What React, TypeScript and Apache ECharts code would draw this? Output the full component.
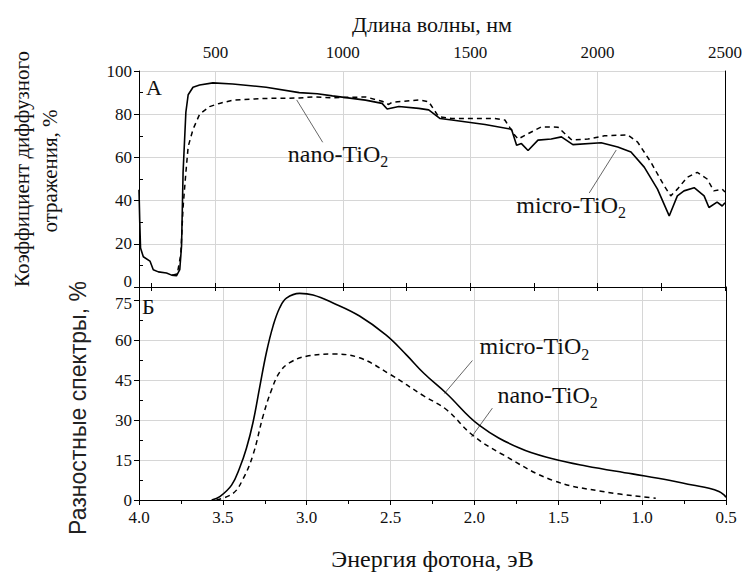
import React, { useEffect, useRef } from "react";
import * as echarts from "echarts";

// ---- Data: top panel (diffuse reflectance vs wavelength, nm) ----
const microTop: [number, number][] = [
  [200, 45], [203, 30], [206, 18], [217, 14], [243, 12], [256, 8], [276, 7], [308, 6.5],
  [328, 5.5], [347, 5.2], [360, 8], [367, 19], [373, 53], [384, 81], [393, 89], [412, 92.5],
  [438, 93.5], [490, 94.5], [568, 94], [699, 92.5], [829, 90], [900, 89.5], [959, 88.5],
  [1089, 86.5], [1154, 85], [1174, 82.4], [1220, 83.6], [1298, 82.7], [1337, 82], [1382, 78],
  [1428, 77.3], [1558, 75.2], [1662, 73], [1682, 65.6], [1701, 66.4], [1727, 63.2], [1766, 68],
  [1818, 68.5], [1858, 69.5], [1903, 65.9], [2014, 66.8], [2079, 64.8], [2131, 62.5],
  [2183, 55.5], [2235, 45.3], [2281, 32.9], [2313, 42.2], [2339, 44.5], [2379, 46],
  [2418, 42.2], [2437, 36.8], [2469, 39.3], [2489, 37.5], [2500, 39],
];
const nanoTop: [number, number][] = [
  [330, 5.5], [350, 6], [364, 15], [373, 37], [384, 53], [393, 65], [412, 73], [438, 80],
  [477, 83.5], [516, 85], [568, 86.5], [699, 87.3], [829, 87.5], [881, 88], [959, 87.6],
  [1089, 88], [1154, 86], [1180, 84.5], [1193, 85.5], [1298, 86.6], [1337, 85.8], [1376, 78.8],
  [1428, 78], [1597, 78], [1636, 77.3], [1675, 70.2], [1688, 68.5], [1727, 71], [1779, 74.1],
  [1844, 74], [1899, 68], [1962, 68.5], [2027, 70], [2118, 70.4], [2157, 67.1], [2209, 57.8],
  [2261, 46.9], [2287, 42.2], [2313, 45.3], [2352, 50.8], [2391, 53.1], [2430, 50],
  [2456, 44.5], [2489, 45.3], [2500, 44],
];

// ---- Data: bottom panel (difference spectra vs photon energy, eV) ----
const microBottom: [number, number][] = [
  [3.567, 0], [3.518, 1.3], [3.448, 5.6], [3.399, 12.2], [3.359, 19.5], [3.32, 29.2],
  [3.28, 42.5], [3.24, 55.5], [3.2, 65.5], [3.161, 72.2], [3.121, 75.8], [3.042, 77.6],
  [2.962, 77], [2.843, 74], [2.685, 69.1], [2.526, 61.9], [2.407, 54.6], [2.3, 47.5],
  [2.168, 40.1], [1.97, 28], [1.732, 19.5], [1.534, 15.5], [1.335, 12.8], [1.058, 9.8],
  [0.839, 7.4], [0.7, 5.6], [0.601, 4.4], [0.542, 3.2], [0.512, 1.9], [0.5, 1.0],
];
const nanoBottom: [number, number][] = [
  [3.538, 0], [3.439, 2.5], [3.379, 8], [3.32, 17], [3.26, 31.6], [3.21, 41.3], [3.161, 48],
  [3.101, 51.6], [3.002, 54], [2.843, 54.8], [2.685, 53.4], [2.506, 47.3], [2.3, 39],
  [2.168, 34], [2.01, 24.3], [1.832, 17.1], [1.534, 7.4], [1.236, 3.2], [0.919, 0.7],
];

// ---- Tick values ----
const wlMajor = [500, 1000, 1500, 2000, 2500];
const wlMinor = [250, 750, 1250, 1750, 2250];
const wlAll = [250, 500, 750, 1000, 1250, 1500, 1750, 2000, 2250, 2500];
const diffTicks = [0, 15, 30, 45, 60, 75];

// ---- Annotations (data coordinates) ----
const nanoTopLabel: [number, number] = [784, 61.6];
const nanoTopLeader: [number, number][] = [[819, 86.6], [921, 67]];
const microTopLabel: [number, number] = [1681, 38];
const microTopLeader: [number, number][] = [[2073, 63.4], [1967, 43.5]];
const microBotLabel: [number, number] = [1.97, 57.8];
const microBotLeader: [number, number][] = [[2.012, 52.4], [2.179, 40]];
const nanoBotLabel: [number, number] = [1.863, 39.6];
const nanoBotLeader: [number, number][] = [[1.893, 34.5], [2.018, 23.6]];

const SERIF = "Liberation Serif";
const SANS = "Liberation Sans";
const GRID_COLOR = "#d6d6d6";

export default function App() {
  const ref = useRef<HTMLDivElement>(null);
  useEffect(() => {
    if (!ref.current) return;
    const chart = echarts.init(ref.current, null, { renderer: "svg" });
    const axisLine = { show: true, lineStyle: { color: "#000", width: 1 } };
    const label = { color: "#111", fontFamily: SERIF, fontSize: 17 };
    const option: any = {
      animation: false,
      backgroundColor: "#fff",
      textStyle: { fontFamily: SERIF },
      grid: [
        { left: 139, right: 19, top: 71, height: 216 },
        { left: 139, right: 19, top: 287, height: 220 },
      ],
      xAxis: [
        {
          gridIndex: 0, type: "value", position: "top", min: 200, max: 2500,
          axisLine,
          axisTick: { show: true, customValues: wlMajor, length: 4, lineStyle: { color: "#000" } },
          axisLabel: { ...label, customValues: wlMajor, margin: 10, formatter: (v: number) => String(v) },
          splitLine: { show: true, lineStyle: { color: GRID_COLOR } },
        },
        {
          gridIndex: 0, type: "value", position: "top", min: 200, max: 2500,
          axisLine: { show: false },
          axisTick: { show: true, customValues: wlMinor, length: 4, lineStyle: { color: "#000" } },
          axisLabel: { show: false },
          splitLine: { show: false },
        },
        {
          gridIndex: 0, type: "value", position: "bottom", min: 200, max: 2500,
          axisLine,
          axisTick: { show: true, customValues: wlAll, length: 4, lineStyle: { color: "#000" } },
          axisLabel: { show: false },
          splitLine: { show: false },
        },
        {
          gridIndex: 1, type: "value", position: "bottom", min: 0.5, max: 4.0, interval: 0.5,
          inverse: true,
          axisLine,
          axisTick: { show: true, length: 5, lineStyle: { color: "#000" } },
          minorTick: { show: true, splitNumber: 2, length: 4, lineStyle: { color: "#000" } },
          axisLabel: { ...label, margin: 9, formatter: (v: number) => v.toFixed(1) },
          splitLine: { show: true, lineStyle: { color: GRID_COLOR } },
          name: "Энергия фотона, эВ",
          nameLocation: "middle",
          nameGap: 47,
          nameTextStyle: { color: "#111", fontFamily: SERIF, fontSize: 24 },
        },
      ],
      yAxis: [
        {
          gridIndex: 0, type: "value", position: "left", min: 0, max: 100, interval: 20,
          axisLine,
          axisTick: { show: true, length: 5, lineStyle: { color: "#000" } },
          minorTick: { show: true, splitNumber: 2, length: -4, lineStyle: { color: "#000" } },
          axisLabel: {
            ...label, margin: 7,
            formatter: (v: number) => (v === 0 ? "{z|0}" : String(v)),
            rich: { z: { fontFamily: SERIF, fontSize: 17, color: "#111", padding: [0, 0, 12, 0] } },
          },
          splitLine: { show: true, lineStyle: { color: GRID_COLOR } },
        },
        {
          gridIndex: 0, type: "value", position: "right", min: 0, max: 100,
          axisLine, axisTick: { show: false }, axisLabel: { show: false }, splitLine: { show: false },
        },
        {
          gridIndex: 1, type: "value", position: "left", min: 0, max: 80, interval: 15,
          axisLine,
          axisTick: { show: true, customValues: diffTicks, length: 5, lineStyle: { color: "#000" } },
          minorTick: { show: true, splitNumber: 2, length: -4, lineStyle: { color: "#000" } },
          axisLabel: {
            ...label, customValues: diffTicks, margin: 7,
            formatter: (v: number) => (v === 75 ? "{t|75}" : String(v)),
            rich: { t: { fontFamily: SERIF, fontSize: 17, color: "#111", padding: [6, 0, 0, 0] } },
          },
          splitLine: { show: true, lineStyle: { color: GRID_COLOR } },
        },
        {
          gridIndex: 1, type: "value", position: "right", min: 0, max: 80,
          axisLine, axisTick: { show: false }, axisLabel: { show: false }, splitLine: { show: false },
        },
      ],
      series: [
        {
          type: "line", xAxisIndex: 0, yAxisIndex: 0, data: nanoTop, showSymbol: false,
          lineStyle: { color: "#000", width: 1.5, type: [5, 4] },
        },
        {
          type: "line", xAxisIndex: 0, yAxisIndex: 0, data: microTop, showSymbol: false,
          lineStyle: { color: "#000", width: 1.6 },
        },
        {
          type: "line", xAxisIndex: 3, yAxisIndex: 2, data: nanoBottom, showSymbol: false,
          smooth: 0.4,
          lineStyle: { color: "#000", width: 1.5, type: [5, 4] },
        },
        {
          type: "line", xAxisIndex: 3, yAxisIndex: 2, data: microBottom, showSymbol: false,
          smooth: 0.4,
          lineStyle: { color: "#000", width: 1.6 },
        },
      ],
    };
    chart.setOption(option);

    const px = (xi: number, yi: number, pt: [number, number]) =>
      chart.convertToPixel({ xAxisIndex: xi, yAxisIndex: yi }, pt) as number[];

    const subText = (pos: number[], main: string) => ({
      type: "text",
      x: pos[0],
      y: pos[1],
      style: {
        text: `{m|${main}}{s|2}`,
        align: "left",
        verticalAlign: "middle",
        fill: "#111",
        rich: {
          m: { fontFamily: SERIF, fontSize: 24, lineHeight: 32, verticalAlign: "middle", fill: "#111" },
          s: { fontFamily: SERIF, fontSize: 16, lineHeight: 32, verticalAlign: "bottom", fill: "#111" },
        },
      },
    });
    const leader = (a: number[], b: number[]) => ({
      type: "line",
      shape: { x1: a[0], y1: a[1], x2: b[0], y2: b[1] },
      style: { stroke: "#555", lineWidth: 0.9 },
    });

    const graphic: any[] = [
      subText(px(0, 0, nanoTopLabel), "nano-TiO"),
      leader(px(0, 0, nanoTopLeader[0]), px(0, 0, nanoTopLeader[1])),
      subText(px(0, 0, microTopLabel), "micro-TiO"),
      leader(px(0, 0, microTopLeader[0]), px(0, 0, microTopLeader[1])),
      subText(px(3, 2, microBotLabel), "micro-TiO"),
      leader(px(3, 2, microBotLeader[0]), px(3, 2, microBotLeader[1])),
      subText(px(3, 2, nanoBotLabel), "nano-TiO"),
      leader(px(3, 2, nanoBotLeader[0]), px(3, 2, nanoBotLeader[1])),
      {
        type: "text", x: 146, y: 87,
        style: { text: "A", fontFamily: SERIF, fontSize: 22, fill: "#111", align: "left", verticalAlign: "middle" },
      },
      {
        type: "text", x: 142, y: 306,
        style: { text: "Б", fontFamily: SERIF, fontSize: 22, fill: "#111", align: "left", verticalAlign: "middle" },
      },
      {
        type: "text", x: 432, y: 24,
        style: { text: "Длина волны, нм", fontFamily: SERIF, fontSize: 22, fill: "#111", align: "center", verticalAlign: "middle" },
      },
      {
        type: "text", x: 22, y: 169, rotation: Math.PI / 2,
        style: { text: "Коэффициент диффузного", fontFamily: SERIF, fontSize: 21, fill: "#111", align: "center", verticalAlign: "middle" },
      },
      {
        type: "text", x: 50, y: 171, rotation: Math.PI / 2,
        style: { text: "отражения, %", fontFamily: SERIF, fontSize: 21, fill: "#111", align: "center", verticalAlign: "middle" },
      },
      {
        type: "text", x: 78, y: 408, rotation: Math.PI / 2,
        style: { text: "Разностные спектры, %", fontFamily: SANS, fontSize: 23, fill: "#222", align: "center", verticalAlign: "middle" },
      },
    ];
    chart.setOption({ graphic });
    return () => chart.dispose();
  }, []);
  return (
    <div
      ref={ref}
      style={{ position: "absolute", left: 0, top: 0, width: 745, height: 572, background: "#fff" }}
    />
  );
}
